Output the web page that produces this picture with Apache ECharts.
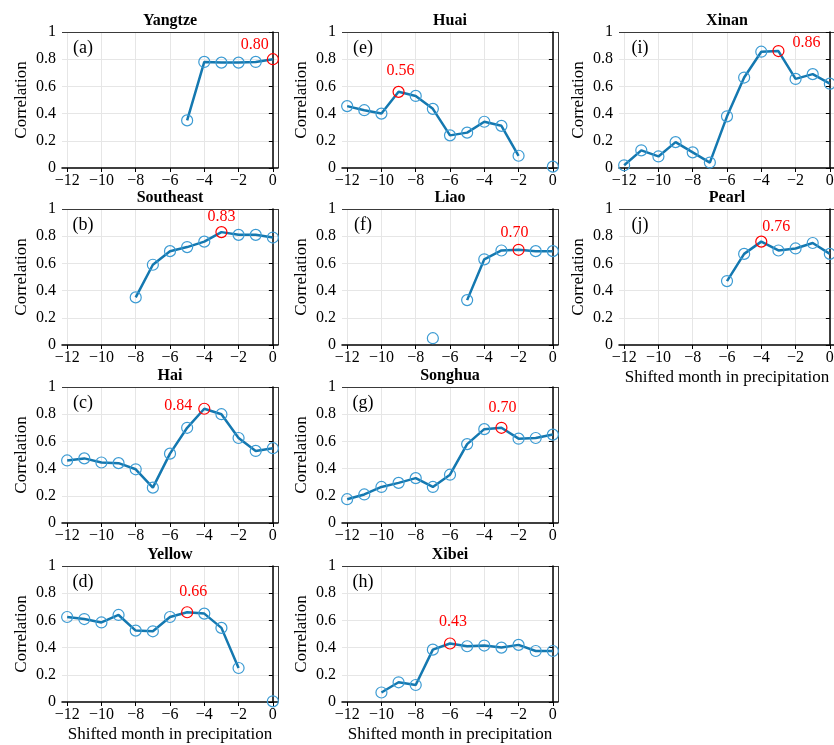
<!DOCTYPE html>
<html><head><meta charset="utf-8">
<script src="https://cdn.jsdelivr.net/npm/echarts@6/dist/echarts.min.js"></script>
<style>html,body{margin:0;padding:0;background:#fff}#c{width:834px;height:745px}</style>
</head><body><div id="c"></div>
<script>
// ---------- data ----------
const xTickValues = [-12, -10, -8, -6, -4, -2, 0];
const yTickValues = [0, 0.2, 0.4, 0.6, 0.8, 1];
const xAxisTitle = 'Shifted month in precipitation';
const yAxisTitle = 'Correlation';

const yangtzeMonths = [-5, -4, -3, -2, -1, 0];
const yangtzeCorr   = [0.35, 0.78, 0.775, 0.775, 0.78, 0.80];

const southeastMonths = [-8, -7, -6, -5, -4, -3, -2, -1, 0];
const southeastCorr   = [0.35, 0.59, 0.69, 0.72, 0.76, 0.83, 0.81, 0.81, 0.79];

const haiMonths = [-12, -11, -10, -9, -8, -7, -6, -5, -4, -3, -2, -1, 0];
const haiCorr   = [0.46, 0.475, 0.445, 0.44, 0.395, 0.26, 0.51, 0.70, 0.84, 0.80, 0.625, 0.53, 0.55];

const yellowMonths = [-12, -11, -10, -9, -8, -7, -6, -5, -4, -3, -2, -1, 0];
const yellowCorr   = [0.625, 0.61, 0.585, 0.64, 0.525, 0.52, 0.625, 0.66, 0.65, 0.545, 0.25, null, 0.005];

const huaiMonths = [-12, -11, -10, -9, -8, -7, -6, -5, -4, -3, -2, -1, 0];
const huaiCorr   = [0.455, 0.425, 0.40, 0.56, 0.53, 0.435, 0.24, 0.26, 0.34, 0.31, 0.09, null, 0.01];

const liaoMonths = [-7, -6, -5, -4, -3, -2, -1, 0];
const liaoCorr   = [0.05, null, 0.33, 0.63, 0.695, 0.70, 0.69, 0.69];

const songhuaMonths = [-12, -11, -10, -9, -8, -7, -6, -5, -4, -3, -2, -1, 0];
const songhuaCorr   = [0.175, 0.21, 0.265, 0.295, 0.33, 0.265, 0.355, 0.58, 0.69, 0.70, 0.62, 0.625, 0.65];

const xibeiMonths = [-10, -9, -8, -7, -6, -5, -4, -3, -2, -1, 0];
const xibeiCorr   = [0.07, 0.145, 0.125, 0.385, 0.43, 0.41, 0.415, 0.40, 0.42, 0.375, 0.375];

const xinanMonths = [-12, -11, -10, -9, -8, -7, -6, -5, -4, -3, -2, -1, 0];
const xinanCorr   = [0.02, 0.13, 0.085, 0.19, 0.115, 0.04, 0.38, 0.665, 0.855, 0.86, 0.655, 0.69, 0.62];

const pearlMonths = [-6, -5, -4, -3, -2, -1, 0];
const pearlCorr   = [0.47, 0.67, 0.76, 0.695, 0.71, 0.75, 0.67];

const panelNames  = ['Yangtze', 'Southeast', 'Hai', 'Yellow', 'Huai', 'Liao', 'Songhua', 'Xibei', 'Xinan', 'Pearl'];
const panelTags   = ['(a)', '(b)', '(c)', '(d)', '(e)', '(f)', '(g)', '(h)', '(i)', '(j)'];
const panelMonths = [yangtzeMonths, southeastMonths, haiMonths, yellowMonths, huaiMonths, liaoMonths, songhuaMonths, xibeiMonths, xinanMonths, pearlMonths];
const panelCorr   = [yangtzeCorr, southeastCorr, haiCorr, yellowCorr, huaiCorr, liaoCorr, songhuaCorr, xibeiCorr, xinanCorr, pearlCorr];

// ---------- layout / style ----------
const FONT = '"Liberation Serif", "Times New Roman", serif';
const colLeft = [62, 342, 619];
const rowTop = [32, 209, 387, 566];
const W = 216, H = 136;
const panelCell = [[0,0],[1,0],[2,0],[3,0],[0,1],[1,1],[2,1],[3,1],[0,2],[1,2]]; // [row, col]
const showXName = [false,false,false,true,false,false,false,true,false,true];
const annotOffset = [[-18,-14],[0,-15],[-26,-3],[6,-20],[2,-21],[-4,-17],[1,-20],[3,-22],[28,-8],[15,-15]];
const LINE = '#1478b0', MARK = '#3c9bd3', GRIDC = '#e6e6e6', FRAME = '#3a3a3a';

const grids = [], xAxes = [], yAxes = [], series = [], graphics = [];
panelNames.forEach((name, i) => {
  const [r, c] = panelCell[i];
  const left = colLeft[c], top = rowTop[r];
  grids.push({left, top, width: W, height: H, show: false, containLabel: false, outerBoundsMode: 'none'});
  xAxes.push({
    type: 'value', gridIndex: i, min: -12.3, max: 0.3, z: 4,
    axisLine: {show: true, onZero: false, lineStyle: {color: '#000', width: 1.5}},
    axisTick: {show: true, length: 4, inside: false, customValues: xTickValues, lineStyle: {color: '#000', width: 1}},
    axisLabel: {customValues: xTickValues, margin: 5, fontFamily: FONT, fontSize: 16, color: '#000',
      formatter: v => String(v).replace('-', '\u2212')},
    splitLine: {show: false},
    name: showXName[i] ? xAxisTitle : '', nameLocation: 'middle', nameGap: 24,
    nameTextStyle: {fontFamily: FONT, fontSize: 17, color: '#000'}
  });
  yAxes.push({
    type: 'value', gridIndex: i, min: 0, max: 1, interval: 0.2, z: 4,
    axisLine: {show: true, lineStyle: {color: '#000', width: 1.5}},
    axisTick: {show: true, length: 4, inside: false, lineStyle: {color: '#000', width: 1}},
    axisLabel: {margin: 6, fontFamily: FONT, fontSize: 16, color: '#000',
      formatter: v => String(Math.round(v * 10) / 10)},
    splitLine: {show: false},
    name: yAxisTitle, nameLocation: 'middle', nameGap: 32, nameRotate: 90,
    nameTextStyle: {fontFamily: FONT, fontSize: 17, color: '#000'}
  });
  // grid lines + top/right frame (drawn through the axes' own scales)
  series.push({
    type: 'line', xAxisIndex: i, yAxisIndex: i, data: [], silent: true, z: 0,
    markLine: {
      silent: true, symbol: 'none', label: {show: false}, animation: false, z: 0,
      lineStyle: {color: GRIDC, width: 1, type: 'solid'},
      data: xTickValues.map(v => ({xAxis: v}))
        .concat(yTickValues.filter(v => v > 0 && v < 1).map(v => ({yAxis: v})))
        .concat([{xAxis: 0.3, lineStyle: {color: FRAME, width: 1}}, {yAxis: 1, lineStyle: {color: FRAME, width: 1}}])
    }
  });
  const months = panelMonths[i], vals = panelCorr[i];
  let maxK = 0;
  vals.forEach((v, k) => { if (v != null && v > vals[maxK]) maxK = k; });
  const data = months.map((m, k) => {
    const v = vals[k];
    if (v == null) return [m, '-'];
    if (k === maxK) {
      return {value: [m, v], itemStyle: {borderColor: '#ff0000'},
        label: {show: true, position: 'inside', offset: annotOffset[i], formatter: v.toFixed(2),
          color: '#ff0000', fontFamily: FONT, fontSize: 16}};
    }
    return [m, v];
  });
  series.push({
    type: 'line', xAxisIndex: i, yAxisIndex: i, data, connectNulls: false,
    symbol: 'circle', symbolSize: 11, showSymbol: true, showAllSymbol: true, clip: false,
    lineStyle: {color: LINE, width: 2.5},
    itemStyle: {color: 'rgba(0,0,0,0)', borderColor: MARK, borderWidth: 1.2},
    emphasis: {disabled: true}, animation: false, z: 6
  });
  graphics.push({type: 'text', x: left + W / 2, y: top - 11, silent: true,
    style: {text: name, align: 'center', verticalAlign: 'middle', fontFamily: FONT, fontWeight: 'bold', fontSize: 16, fill: '#000'}});
  graphics.push({type: 'text', x: left + 21, y: top + 16, silent: true,
    style: {text: panelTags[i], align: 'center', verticalAlign: 'middle', fontFamily: FONT, fontSize: 18, fill: '#000'}});
});

const chart = echarts.init(document.getElementById('c'), null, {renderer: 'canvas'});
chart.setOption({
  backgroundColor: '#fff', animation: false,
  grid: grids, xAxis: xAxes, yAxis: yAxes, series, graphic: graphics, tooltip: {show: false}
});
</script></body></html>
